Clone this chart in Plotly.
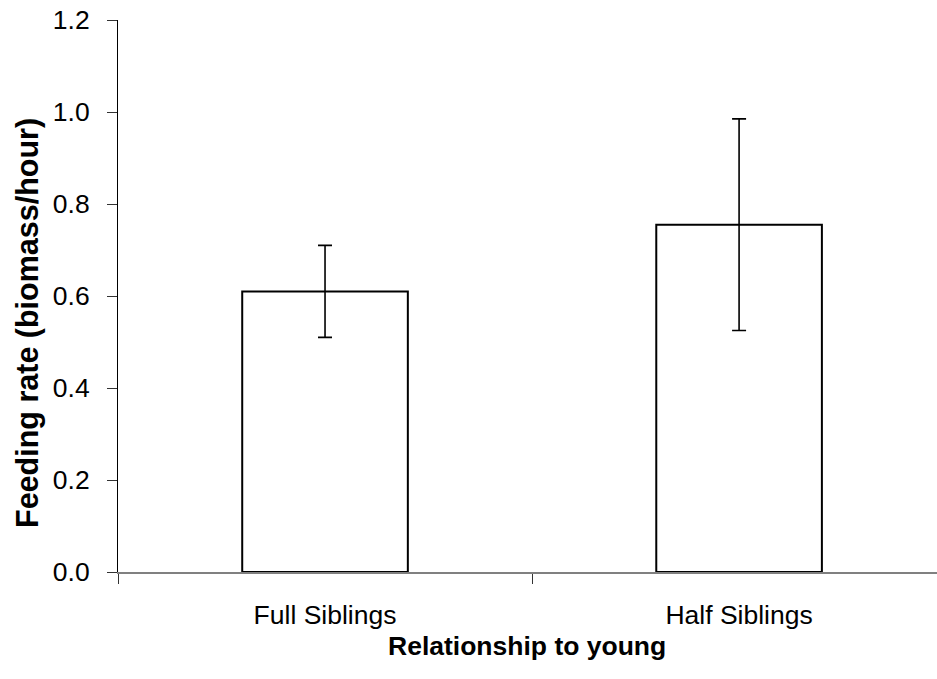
import plotly.graph_objects as go

# Mean feeding rate by relatedness of the helper to the brood, with error bars
categories = ["Full Siblings", "Half Siblings"]
feeding_rate = [0.61, 0.755]
error_plus = [0.10, 0.23]
error_minus = [0.10, 0.23]
y_ticks = [0.0, 0.2, 0.4, 0.6, 0.8, 1.0, 1.2]
y_tick_text = ["0.0", "0.2", "0.4", "0.6", "0.8", "1.0", "1.2"]

FONT = "Liberation Sans, Arial, Helvetica, sans-serif"

fig = go.Figure(
    go.Bar(
        x=categories,
        y=feeding_rate,
        width=0.4,
        marker=dict(color="white", line=dict(color="black", width=2)),
        error_y=dict(
            type="data",
            symmetric=False,
            array=error_plus,
            arrayminus=error_minus,
            color="black",
            thickness=1.6,
            width=7,
        ),
        showlegend=False,
    )
)

W, H = 937, 679
ml, mr, mt, mb = 118, 0, 20, 107

fig.update_layout(
    width=W,
    height=H,
    margin=dict(l=ml, r=mr, t=mt, b=mb, pad=0),
    paper_bgcolor="white",
    plot_bgcolor="white",
    font=dict(family=FONT, size=26, color="black"),
    bargap=0.6,
)

fig.update_xaxes(
    type="category",
    range=[-0.5, 1.478],
    showline=True,
    linecolor="#808080",
    linewidth=1.5,
    ticks="outside",
    tickson="boundaries",
    ticklen=10,
    tickcolor="#333333",
    tickwidth=1,
    ticklabelstandoff=18,
    tickfont=dict(family=FONT, size=26.5, color="black"),
    showgrid=False,
    zeroline=False,
)

fig.update_yaxes(
    range=[0, 1.2],
    tickvals=y_ticks,
    ticktext=y_tick_text,
    showline=True,
    linecolor="black",
    linewidth=1,
    ticks="outside",
    ticklen=10,
    tickcolor="#333333",
    tickwidth=1,
    ticklabelstandoff=12,
    tickfont=dict(family=FONT, size=26.5, color="black"),
    showgrid=False,
    zeroline=False,
)

pw = W - ml - mr
ph = H - mt - mb

fig.add_annotation(
    text="<b>Relationship to young</b>",
    xref="paper", yref="paper",
    x=(527 - ml) / pw, y=-(646 - (mt + ph)) / ph,
    xanchor="center", yanchor="middle",
    showarrow=False,
    font=dict(family=FONT, size=26.5, color="black"),
)

fig.add_annotation(
    text="<b>Feeding rate (biomass/hour)</b>",
    xref="paper", yref="paper",
    x=-(ml - 27) / pw, y=((mt + ph) - 323) / ph,
    xanchor="center", yanchor="middle",
    textangle=-90,
    showarrow=False,
    font=dict(family=FONT, size=30.5, color="black"),
)

fig.write_html("out.html")
